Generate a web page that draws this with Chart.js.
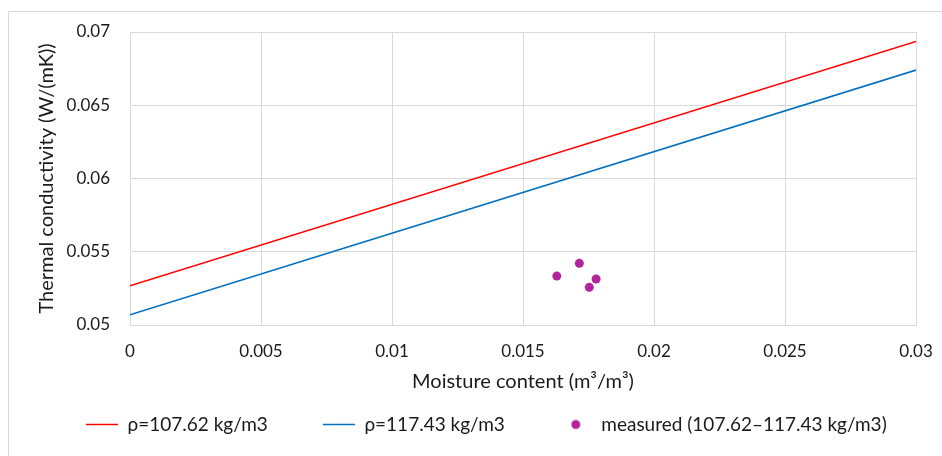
<!DOCTYPE html>
<html>
<head>
<meta charset="utf-8">
<script src="https://cdn.jsdelivr.net/npm/chart.js@4.4.1/dist/chart.umd.min.js"></script>
<style>
html,body{margin:0;padding:0;background:#fff;}
#wrap{width:942px;height:456px;position:relative;}
</style>
</head>
<body>
<div id="wrap"><canvas id="c" width="942" height="456"></canvas></div>
<script>
// ---- data ----
const seriesNames = ['ρ=107.62 kg/m3', 'ρ=117.43 kg/m3', 'measured (107.62–117.43 kg/m3)'];
const lineX = [0, 0.03];
const redLineY = [0.05268, 0.06936];
const blueLineY = [0.0507, 0.0674];
const measuredX = [0.01629, 0.01715, 0.01779, 0.01753];
const measuredY = [0.05334, 0.05421, 0.05314, 0.05257];
const xTickValues = [0, 0.005, 0.01, 0.015, 0.02, 0.025, 0.03];
const xTickLabels = ['0', '0.005', '0.01', '0.015', '0.02', '0.025', '0.03'];
const yTickValues = [0.05, 0.055, 0.06, 0.065, 0.07];
const yTickLabels = ['0.05', '0.055', '0.06', '0.065', '0.07'];
const xTitle = 'Moisture content (m³/m³)';
const yTitle = 'Thermal conductivity (W/(mK))';

const toPts = (xs, ys) => xs.map((x, i) => ({x: x, y: ys[i]}));

const FONT = 'Lato';
const TXT = '#1a1a1a';
const GRID = '#d9d9d9';
const RED = '#ff0000';
const BLUE = '#0070c0';
const PURPLE = '#b4259d';

// legend marker for the measured series
const dotCanvas = document.createElement('canvas');
dotCanvas.width = 32; dotCanvas.height = 12;
(function(){
  const g = dotCanvas.getContext('2d');
  g.fillStyle = PURPLE;
  g.beginPath(); g.arc(16, 6, 4.5, 0, Math.PI * 2); g.fill();
})();

const framePlugin = {
  id: 'frame',
  beforeDraw(chart) {
    const ctx = chart.ctx;
    ctx.save();
    ctx.strokeStyle = GRID;
    ctx.lineWidth = 1;
    ctx.beginPath();
    ctx.moveTo(8.5, 456); ctx.lineTo(8.5, 11.5); ctx.lineTo(942, 11.5);
    ctx.stroke();
    ctx.restore();
  }
};

const legendPlace = {
  id: 'legendPlace',
  afterLayout(chart) {
    const lg = chart.legend;
    if (!lg) return;
    const P = lg.options.labels.padding;
    const half = lg.options.labels.font.size / 2;
    lg.left = 86 - P;
    lg.right = 942;
    lg.width = lg.right - lg.left;
    lg.top = 424.5 - half - P;
    lg.bottom = 456;
    lg.height = lg.bottom - lg.top;
  }
};

new Chart(document.getElementById('c'), {
  type: 'scatter',
  data: {
    datasets: [
      {
        label: seriesNames[0],
        data: toPts(lineX, redLineY),
        showLine: true,
        borderColor: RED,
        backgroundColor: RED,
        borderWidth: 1.5,
        pointRadius: 0,
        pointHoverRadius: 0
      },
      {
        label: seriesNames[1],
        data: toPts(lineX, blueLineY),
        showLine: true,
        borderColor: BLUE,
        backgroundColor: BLUE,
        borderWidth: 1.5,
        pointRadius: 0,
        pointHoverRadius: 0
      },
      {
        label: seriesNames[2],
        data: toPts(measuredX, measuredY),
        showLine: false,
        borderColor: PURPLE,
        backgroundColor: PURPLE,
        borderWidth: 0,
        pointRadius: 4.5
      }
    ]
  },
  options: {
    responsive: false,
    animation: false,
    events: [],
    layout: { padding: { left: 31, right: 26, top: 32, bottom: 0 } },
    plugins: {
      tooltip: { enabled: false },
      legend: {
        position: 'bottom',
        align: 'start',
        maxHeight: 58,
        labels: {
          usePointStyle: true,
          pointStyleWidth: 32,
          padding: 55,
          color: TXT,
          font: { family: FONT, size: 19 },
          generateLabels(chart) {
            const items = Chart.defaults.plugins.legend.labels.generateLabels(chart);
            items.forEach((it, i) => {
              if (i < 2) {
                it.pointStyle = 'line';
                it.strokeStyle = chart.data.datasets[i].borderColor;
                it.lineWidth = 1.5;
              } else {
                it.pointStyle = dotCanvas;
              }
            });
            return items;
          }
        }
      }
    },
    scales: {
      x: {
        type: 'linear',
        min: 0, max: 0.03,
        afterBuildTicks(scale) { scale.ticks = xTickValues.map(v => ({value: v})); },
        afterFit(scale) { scale.height = 73; scale.paddingLeft = 0; scale.paddingRight = 0; },
        grid: { color: GRID, lineWidth: 1, drawTicks: false },
        border: { color: GRID },
        ticks: {
          padding: 16,
          color: TXT,
          maxRotation: 0,
          font: { family: FONT, size: 17 },
          callback: (v, i) => xTickLabels[i]
        },
        title: { display: true, text: xTitle, color: TXT, font: { family: FONT, size: 20 }, padding: { top: 4, bottom: 4 } }
      },
      y: {
        type: 'linear',
        min: 0.05, max: 0.07,
        afterBuildTicks(scale) { scale.ticks = yTickValues.map(v => ({value: v})); },
        afterFit(scale) { scale.width = 99; },
        grid: { color: GRID, lineWidth: 1, drawTicks: false },
        border: { color: GRID },
        ticks: {
          padding: 20,
          color: TXT,
          font: { family: FONT, size: 17 },
          callback: (v, i) => yTickLabels[i]
        },
        title: { display: true, text: yTitle, color: TXT, font: { family: FONT, size: 20 }, padding: { top: 4, bottom: 4 } }
      }
    }
  },
  plugins: [framePlugin, legendPlace]
});
</script>
</body>
</html>
